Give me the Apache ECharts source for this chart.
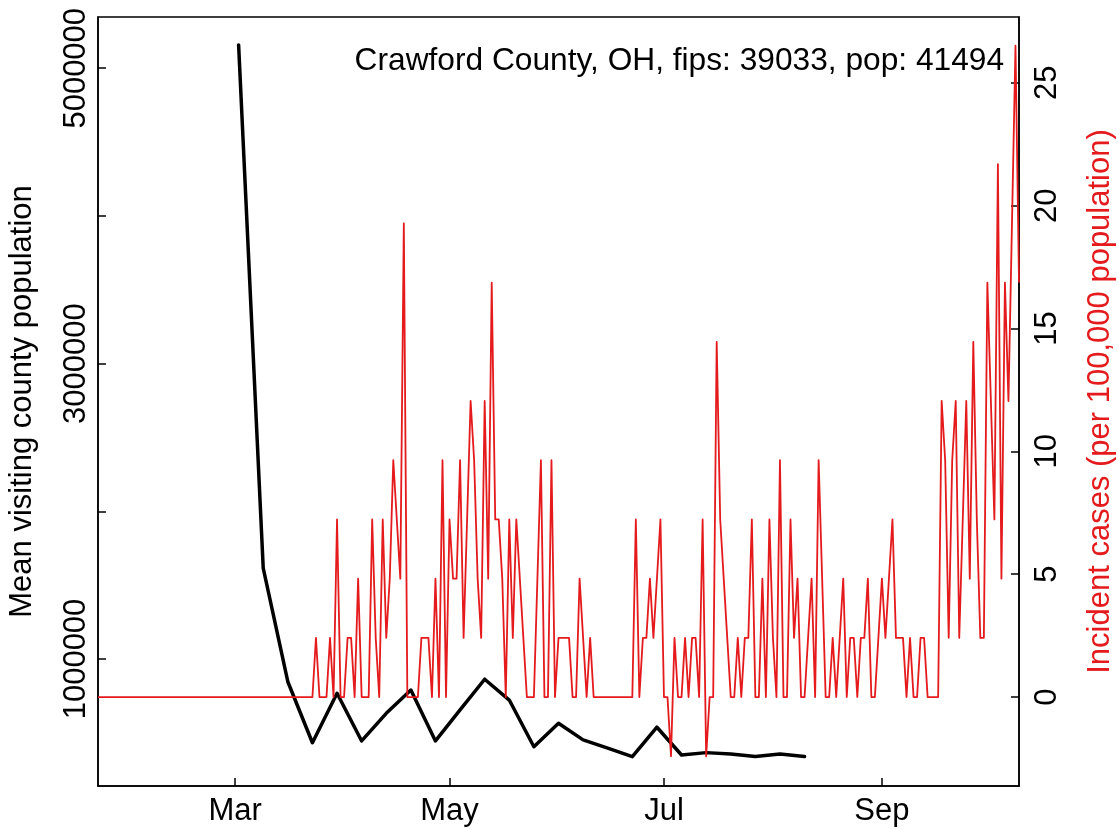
<!DOCTYPE html>
<html>
<head>
<meta charset="utf-8">
<script src="https://cdn.jsdelivr.net/npm/echarts@6/dist/echarts.min.js"></script>
<style>
  html, body { margin: 0; padding: 0; background: #ffffff; }
  #chart { width: 1119px; height: 829px; }
</style>
</head>
<body>
<div id="chart"></div>
<script>
// Day numbers are days since 2020-01-01 (Jan 1 = 0)
const xTickDays = [60, 121, 182, 244];
const xTickLabels = ['Mar', 'May', 'Jul', 'Sep'];

const leftTickValues = [1000000, 2000000, 3000000, 4000000, 5000000];
const leftLabelValues = [1000000, 3000000, 5000000];
const rightTickValues = [0, 5, 10, 15, 20, 25];

// Weekly mean visiting county population (black line)
const mobilityDays = [61, 68, 75, 82, 89, 96, 103, 110, 117, 124, 131, 138,
                      145, 152, 159, 166, 173, 180, 187, 194, 201, 208, 215, 222];
const mobilityValues = [5158000, 1616000, 846000, 433000, 768000, 445000, 632000, 790000,
                        445000, 655000, 863000, 722000, 406000, 565000, 452000, 397000,
                        339000, 538000, 350000, 366000, 357000, 339000, 357000, 339000];

// Daily incident cases per 100,000 (red line), first day = 2020-01-22 (day 21)
const caseStartDay = 21;
const caseValues = [
  0, 0, 0, 0, 0, 0, 0, 0, 0, 0,
  0, 0, 0, 0, 0, 0, 0, 0, 0, 0,
  0, 0, 0, 0, 0, 0, 0, 0, 0, 0,
  0, 0, 0, 0, 0, 0, 0, 0, 0, 0,
  0, 0, 0, 0, 0, 0, 0, 0, 0, 0,
  0, 0, 0, 0, 0, 0, 0, 0, 0, 0,
  0, 0,
  2.41, 0, 0, 0, 2.41, 0, 7.23, 0, 0, 2.41,
  2.41, 0, 4.82, 0, 0, 0, 7.23, 2.41, 0, 7.23,
  2.41, 4.82, 9.64, 7.23, 4.82, 19.28, 0, 0, 0, 0,
  2.41, 2.41, 2.41, 0, 4.82, 0, 9.64, 0, 7.23, 4.82,
  4.82, 9.64, 2.41, 7.23, 12.05, 9.64, 4.82, 2.41, 12.05, 4.82,
  16.87, 7.23, 7.23, 4.82, 0, 7.23, 2.41, 7.23, 4.82, 2.41,
  0, 0, 0, 4.82, 9.64, 0, 0, 9.64, 0, 2.41,
  2.41, 2.41, 2.41, 0, 0, 4.82, 2.41, 0, 2.41, 0,
  0, 0, 0, 0, 0, 0, 0, 0, 0, 0,
  0, 7.23, 0, 2.41, 2.41, 4.82, 2.41, 4.82, 7.23, 0,
  0, -2.41, 2.41, 0, 0, 2.41, 0, 2.41, 2.41, 0,
  7.23, -2.41, 0, 0, 14.46, 7.23, 4.82, 2.41, 0, 0,
  2.41, 0, 2.41, 2.41, 7.23, 0, 0, 4.82, 0, 7.23,
  2.41, 0, 9.64, 0, 0, 7.23, 2.41, 4.82, 0, 0,
  2.41, 4.82, 0, 9.64, 4.82, 0, 0, 2.41, 0, 2.41,
  4.82, 0, 2.41, 2.41, 0, 2.41, 2.41, 4.82, 0, 0,
  2.41, 4.82, 2.41, 4.82, 7.23, 2.41, 2.41, 2.41, 0, 2.41,
  0, 0, 2.41, 2.41, 0, 0, 0, 0, 12.05, 9.64,
  2.41, 9.64, 12.05, 2.41, 7.23, 12.05, 4.82, 14.46, 7.23, 2.41,
  2.41, 16.87, 12.05, 7.23, 21.69, 4.82, 16.87, 12.05, 19.28, 26.51,
  16.87
];

const annotationText = 'Crawford County, OH, fips: 39033, pop: 41494';
const leftAxisTitle = 'Mean visiting county population';
const rightAxisTitle = 'Incident cases (per 100,000 population)';

const FONT = 'Liberation Sans, Arial, Helvetica, sans-serif';
const FS = 31;
const RED = '#e41a1c';

const mobilityData = mobilityDays.map((d, i) => [d, mobilityValues[i]]);
const caseData = caseValues.map((v, i) => [caseStartDay + i, v]);

const chart = echarts.init(document.getElementById('chart'), null, { renderer: 'canvas' });

const option = {
  animation: false,
  backgroundColor: '#ffffff',
  grid: {
    left: 98, right: 100, top: 17, bottom: 43,
    outerBoundsMode: 'none',
    containLabel: false,
    show: true, borderColor: '#000', borderWidth: 1.5, backgroundColor: 'transparent'
  },
  xAxis: {
    type: 'value',
    min: 21, max: 283,
    splitLine: { show: false },
    axisLine: { show: true, onZero: false, lineStyle: { color: '#000', width: 1.5 } },
    axisTick: { show: true, inside: true, length: 8, lineStyle: { color: '#000', width: 1.5 },
                customValues: xTickDays },
    axisLabel: {
      customValues: xTickDays,
      formatter: function (v) { const i = xTickDays.indexOf(v); return i >= 0 ? xTickLabels[i] : ''; },
      color: '#000', fontFamily: FONT, fontSize: FS, margin: 10
    }
  },
  yAxis: [
    {
      type: 'value',
      position: 'left',
      min: 140000, max: 5347000,
      name: leftAxisTitle,
      nameLocation: 'middle',
      nameRotate: 90,
      nameGap: 60,
      nameTextStyle: { color: '#000', fontFamily: FONT, fontSize: FS },
      splitLine: { show: false },
      axisLine: { show: true, lineStyle: { color: '#000', width: 1.5 } },
      axisTick: { show: true, inside: true, length: 8, lineStyle: { color: '#000', width: 1.5 },
                  customValues: leftTickValues },
      axisLabel: {
        customValues: leftLabelValues,
        rotate: 90,
        formatter: function (v) { return String(v); },
        color: '#000', fontFamily: FONT, fontSize: FS, margin: 6
      }
    },
    {
      type: 'value',
      position: 'right',
      min: -3.62, max: 27.68,
      name: rightAxisTitle,
      nameLocation: 'middle',
      nameRotate: 90,
      nameGap: 66,
      nameTextStyle: { color: RED, fontFamily: FONT, fontSize: FS },
      splitLine: { show: false },
      axisLine: { show: true, lineStyle: { color: '#000', width: 1.5 } },
      axisTick: { show: true, inside: true, length: 8, lineStyle: { color: '#000', width: 1.5 },
                  customValues: rightTickValues },
      axisLabel: {
        customValues: rightTickValues,
        rotate: 90,
        formatter: function (v) { return String(v); },
        color: '#000', fontFamily: FONT, fontSize: FS, margin: 13
      }
    }
  ],
  graphic: [
    {
      type: 'text',
      right: 1119 - 1004,
      top: 45,
      style: { text: annotationText, fill: '#000', font: '31.7px ' + FONT }
    }
  ],
  series: [
    {
      type: 'line',
      yAxisIndex: 0,
      data: mobilityData,
      showSymbol: false,
      symbol: 'none',
      lineStyle: { color: '#000', width: 3.5, cap: 'round', join: 'round' },
      z: 2
    },
    {
      type: 'line',
      yAxisIndex: 1,
      data: caseData,
      showSymbol: false,
      symbol: 'none',
      lineStyle: { color: RED, width: 1.8, join: 'round' },
      z: 3
    }
  ]
};

chart.setOption(option);
</script>
</body>
</html>
